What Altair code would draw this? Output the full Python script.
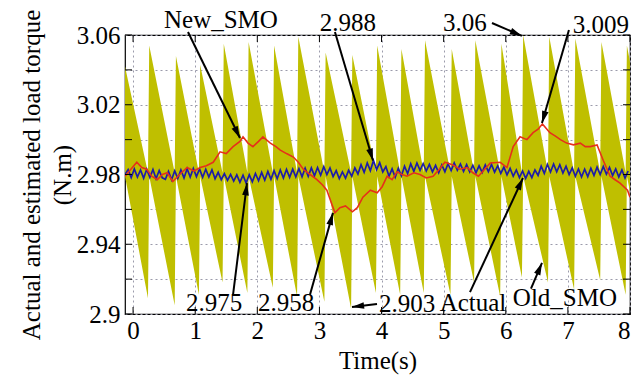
import math
import altair as alt
import numpy as np
import pandas as pd

SERIF = "Liberation Serif"
FS = 25

# ---- Old_SMO estimate: sawtooth band, one entry per tooth ----
tooth_start = [-0.13, 0.26, 0.69, 1.08, 1.46, 1.86, 2.27, 2.66, 3.10, 3.53, 3.93,
               4.32, 4.70, 5.13, 5.51, 5.93, 6.28, 6.70, 7.12, 7.54, 7.95, 8.36]
tooth_peak = [3.042, 3.054, 3.048, 3.043, 3.055, 3.056, 3.054, 3.059, 3.050, 3.0485, 3.054,
              3.052, 3.057, 3.052, 3.057, 3.055, 3.060, 3.059, 3.058, 3.056, 3.054]
tooth_trough = [2.909, 2.905, 2.911, 2.918, 2.912, 2.915, 2.910, 2.907, 2.903, 2.912, 2.911,
                2.912, 2.911, 2.918, 2.910, 2.921, 2.918, 2.914, 2.9195, 2.911, 2.910]
band_mid_hi = 2.981
band_mid_lo = 2.979

# ---- New_SMO estimate ----
new_t = [-0.13, 0.06, 0.14, 0.22, 0.30, 0.39, 0.47, 0.55, 0.64, 0.75, 0.87, 0.98, 1.08,
         1.18, 1.29, 1.40, 1.50, 1.61, 1.72, 1.77, 1.85, 1.93, 2.02, 2.09, 2.21, 2.30,
         2.37, 2.47, 2.58, 2.66, 2.74, 2.85, 2.96, 3.05, 3.12, 3.19, 3.25, 3.33, 3.42,
         3.53, 3.61, 3.70, 3.82, 3.93, 4.01, 4.09, 4.17, 4.25, 4.33, 4.41, 4.52, 4.62,
         4.72, 4.83, 4.93, 5.02, 5.15, 5.26, 5.38, 5.47, 5.56, 5.66, 5.75, 5.91, 6.02,
         6.12, 6.23, 6.34, 6.44, 6.52, 6.59, 6.71, 6.80, 6.88, 6.98, 7.09, 7.20, 7.28,
         7.36, 7.47, 7.57, 7.68, 7.76, 7.84, 7.96, 8.00]
new_v = [2.979, 2.987, 2.984, 2.983, 2.979, 2.977, 2.980, 2.981, 2.976, 2.980, 2.984, 2.982, 2.984,
         2.985, 2.987, 2.993, 2.992, 2.996, 2.999, 3.0016, 2.998, 2.996, 2.999, 3.0016, 2.998, 2.996,
         2.994, 2.992, 2.990, 2.987, 2.983, 2.980, 2.977, 2.974, 2.971, 2.964, 2.958, 2.961, 2.962,
         2.9586, 2.961, 2.967, 2.971, 2.9695, 2.973, 2.979, 2.977, 2.9815, 2.980, 2.979, 2.981, 2.980,
         2.978, 2.979, 2.983, 2.987, 2.9855, 2.983, 2.984, 2.981, 2.979, 2.983, 2.9866, 2.987, 2.984,
         2.996, 3.0016, 3.000, 3.004, 3.006, 3.009, 3.004, 3.002, 3.000, 2.998, 2.997, 2.998, 2.996,
         2.996, 2.997, 2.988, 2.979, 2.977, 2.975, 2.971, 2.967]

# ---- Actual load torque, sampled every 0.05 s from t = -0.13 ----
actual_t0 = -0.13
actual_dt = 0.05
actual_v = [
    2.9800, 2.9828, 2.9782, 2.9832, 2.9785, 2.9826, 2.9779, 2.9830, 2.9783, 2.9829, 2.9776, 2.9823, 2.9781,
    2.9772, 2.9818, 2.9770, 2.9821, 2.9778, 2.9826, 2.9780, 2.9833, 2.9786, 2.9835, 2.9788, 2.9832, 2.9784,
    2.9830, 2.9785, 2.9827,
    2.9776, 2.9812, 2.9770, 2.9805, 2.9766, 2.9800, 2.9762, 2.9798, 2.9755, 2.9796, 2.9751, 2.9799, 2.9758,
    2.9806, 2.9764,
    2.9812, 2.9768, 2.9818, 2.9772, 2.9822, 2.9776, 2.9826, 2.9780, 2.9829, 2.9784, 2.9831, 2.9786, 2.9834,
    2.9787, 2.9836, 2.9790, 2.9838, 2.9792, 2.9840,
    2.9796, 2.9845, 2.9800, 2.9838, 2.9788, 2.9822, 2.9776, 2.9815, 2.9779, 2.9824, 2.9790,
    2.9838, 2.9803, 2.9856, 2.9812, 2.9866, 2.9822, 2.9880, 2.9828, 2.9868, 2.9815,
    2.9846, 2.9790, 2.9832, 2.9784, 2.9835, 2.9792, 2.9848, 2.9805,
    2.9862, 2.9818, 2.9866, 2.9824, 2.9863, 2.9820, 2.9858, 2.9815, 2.9852, 2.9810, 2.9855, 2.9816, 2.9862,
    2.9822, 2.9866, 2.9825,
    2.9860, 2.9818, 2.9857, 2.9815, 2.9853, 2.9810, 2.9850, 2.9812, 2.9855, 2.9816, 2.9858, 2.9814, 2.9850,
    2.9806, 2.9842,
    2.9798, 2.9835, 2.9790, 2.9826, 2.9782, 2.9820, 2.9778, 2.9818, 2.9782, 2.9826,
    2.9795, 2.9848, 2.9806, 2.9858, 2.9814, 2.9860, 2.9815, 2.9856, 2.9808, 2.9848, 2.9800,
    2.9838, 2.9790, 2.9832, 2.9786, 2.9830, 2.9788, 2.9836, 2.9794, 2.9842,
    2.9800, 2.9846, 2.9802, 2.9840, 2.9794, 2.9832, 2.9786, 2.9826, 2.9780, 2.9820,
]

# ---- axes ----
x_domain = [-0.13, 8.0]
y_domain = [2.90, 3.06]
x_ticks = [0, 1, 2, 3, 4, 5, 6, 7, 8]
y_ticks = [2.90, 2.92, 2.94, 2.96, 2.98, 3.00, 3.02, 3.04, 3.06]
y_labelled = ["2.9", "2.94", "2.98", "3.02", "3.06"]

# ---- annotations: label text, label position, arrow tail and tip ----
ann_text = ["New_SMO", "2.988", "3.06", "3.009", "2.975", "2.958", "2.903", "Actual", "Old_SMO"]
ann_t = [1.415, 3.460, 5.343, 7.533, 1.303, 2.462, 4.410, 5.472, 6.953]
ann_v = [3.0686, 3.0669, 3.0669, 3.0657, 2.9062, 2.9062, 2.9058, 2.9062, 2.9092]
tail_t = [0.884, 3.250, 5.778, 7.017, 1.609, 2.848, 3.927, 5.424, 6.406]
tail_v = [3.0617, 3.0617, 3.0669, 3.0629, 2.9110, 2.9110, 2.9058, 2.9125, 2.9145]
tip_t = [1.721, 3.862, 6.260, 6.583, 1.834, 3.218, 3.524, 6.277, 6.583]
tip_v = [3.0009, 2.9880, 3.0595, 3.0095, 2.9750, 2.9580, 2.9040, 2.9780, 2.9293]

W, H = 505, 279
px_per_t = W / (x_domain[1] - x_domain[0])
px_per_v = H / (y_domain[1] - y_domain[0])

# band rows: each tooth rises to its peak, then both edges ramp down
band_rows = []
for k in range(len(tooth_peak)):
    band_rows.append({"t": tooth_start[k], "hi": tooth_peak[k], "lo": band_mid_lo})
    band_rows.append({"t": tooth_start[k + 1] - 0.02, "hi": band_mid_hi, "lo": tooth_trough[k]})
band = pd.DataFrame(band_rows)

actual = pd.DataFrame({"t": actual_t0 + actual_dt * np.arange(len(actual_v)), "v": actual_v})
new_smo = pd.DataFrame({"t": new_t, "v": new_v})

# arrowheads sit just behind each tip, rotated along the arrow
head_rows = []
for i in range(len(ann_text)):
    dx = (tip_t[i] - tail_t[i]) * px_per_t
    dy = -(tip_v[i] - tail_v[i]) * px_per_v
    ln = math.hypot(dx, dy)
    ux, uy = dx / ln, dy / ln
    back = 6.0
    head_rows.append({
        "t": tip_t[i] - ux * back / px_per_t,
        "v": tip_v[i] + uy * back / px_per_v,
        "angle": math.degrees(math.atan2(dx, -dy)) % 360,
    })
heads = pd.DataFrame(head_rows)
arrows = pd.DataFrame({"t0": tail_t, "v0": tail_v, "t1": tip_t, "v1": tip_v})
labels = pd.DataFrame({"text": ann_text, "t": ann_t, "v": ann_v})

xs = alt.Scale(domain=x_domain, nice=False, zero=False)
ys = alt.Scale(domain=y_domain, nice=False, zero=False)

label_expr = ("indexof(" + str(y_labelled).replace('"', "'") +
              ", format(datum.value, '.2~f')) >= 0 ? format(datum.value, '.2~f') : ''")

x_axis = alt.Axis(values=x_ticks, title="Time(s)", grid=True, ticks=False, domain=False,
                  gridColor="#9b9bab", gridDash=[2, 3], gridWidth=1,
                  labelFont=SERIF, labelFontSize=FS, labelColor="black", labelPadding=4,
                  titleFont=SERIF, titleFontSize=FS, titleFontWeight="normal", titleColor="black",
                  titlePadding=5)
y_axis = alt.Axis(values=y_ticks, title=["Actual and estimated load torque", "(N.m)"], grid=True,
                  ticks=False, domain=False, labelExpr=label_expr,
                  gridColor="#9b9bab", gridDash=[2, 3], gridWidth=1,
                  labelFont=SERIF, labelFontSize=FS, labelColor="black", labelPadding=5,
                  titleFont=SERIF, titleFontSize=FS, titleFontWeight="normal", titleColor="black",
                  titlePadding=1, titleLineHeight=31)


def X(field):
    return alt.X(field, type="quantitative", scale=xs, axis=x_axis)


def Y(field):
    return alt.Y(field, type="quantitative", scale=ys, axis=y_axis)


band_layer = alt.Chart(band).mark_area(color="#BFBF00", clip=True, interpolate="linear").encode(
    x=X("t"), y=Y("hi"), y2="lo:Q",
)

actual_layer = alt.Chart(actual).mark_line(color="#1c1ca8", strokeWidth=1.7, clip=True).encode(
    x=X("t"), y=Y("v")
)

new_layer = alt.Chart(new_smo).mark_line(color="#e6301a", strokeWidth=1.6, clip=True).encode(
    x=X("t"), y=Y("v")
)

# inward tick marks on all four sides of the frame
xt = pd.DataFrame({"t": x_ticks})
yt = pd.DataFrame({"v": y_ticks})
tick_len = 7
ticks_bottom = alt.Chart(xt).mark_rule(color="black", strokeWidth=1).encode(
    x=X("t"), y=alt.value(H - tick_len), y2=alt.value(H))
ticks_top = alt.Chart(xt).mark_rule(color="black", strokeWidth=1).encode(
    x=X("t"), y=alt.value(0), y2=alt.value(tick_len))
ticks_left = alt.Chart(yt).mark_rule(color="black", strokeWidth=1).encode(
    y=Y("v"), x=alt.value(0), x2=alt.value(tick_len))
ticks_right = alt.Chart(yt).mark_rule(color="black", strokeWidth=1).encode(
    y=Y("v"), x=alt.value(W - tick_len), x2=alt.value(W))

arrow_layer = alt.Chart(arrows).mark_rule(color="black", strokeWidth=2).encode(
    x=X("t0"), y=Y("v0"), x2="t1:Q", y2="v1:Q")

head_layer = alt.Chart(heads).mark_point(
    shape="M0,-1L0.55,1L-0.55,1Z", filled=True, color="black", opacity=1, size=150
).encode(
    x=X("t"), y=Y("v"),
    angle=alt.Angle("angle:Q", scale=None),
)

text_layer = alt.Chart(labels).mark_text(
    font=SERIF, fontSize=FS, color="black", align="center", baseline="middle"
).encode(
    x=X("t"), y=Y("v"), text="text:N")

chart = alt.layer(
    band_layer, actual_layer, new_layer,
    ticks_bottom, ticks_top, ticks_left, ticks_right,
    arrow_layer, head_layer, text_layer,
).properties(
    width=W, height=H,
    autosize=alt.AutoSizeParams(type="none"),
    padding={"left": 125, "top": 35, "right": 14, "bottom": 68},
    background="white",
).configure_view(stroke="black", strokeWidth=1.2)

chart.save("out.html", embed_options={"renderer": "svg", "actions": False})
